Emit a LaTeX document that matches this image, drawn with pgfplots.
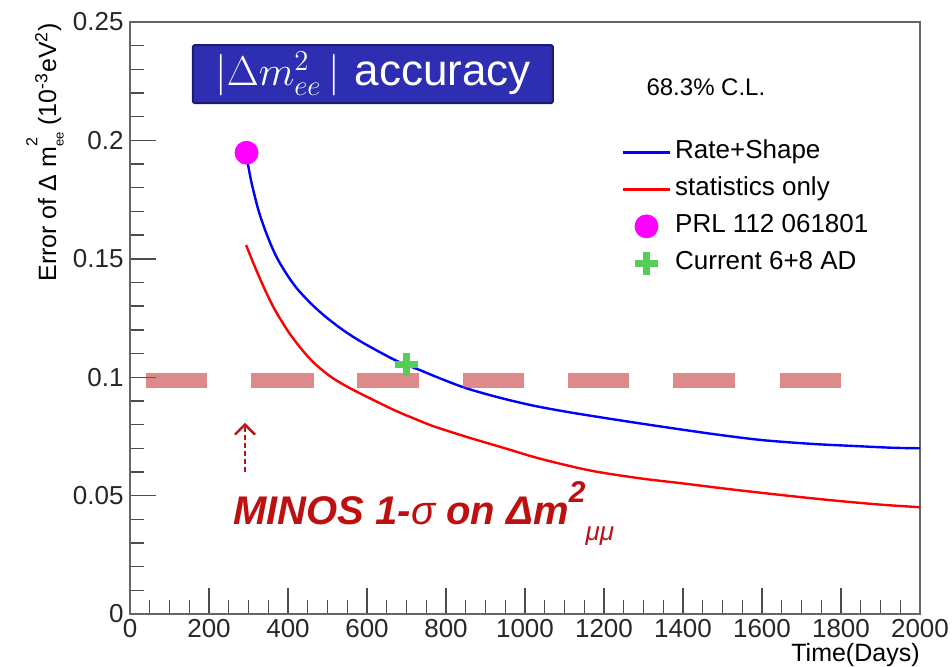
\documentclass[border=0pt]{standalone}
\usepackage{fontspec}
\setmainfont{Liberation Sans}
\usepackage{pgfplots}
\pgfplotsset{compat=1.18}
\usetikzlibrary{arrows.meta}

\definecolor{rsblue}{RGB}{0,0,255}
\definecolor{stred}{RGB}{255,0,0}
\definecolor{prlmag}{RGB}{255,0,255}
\definecolor{curgreen}{RGB}{88,204,88}
\definecolor{minosred}{RGB}{190,16,16}
\definecolor{bandred}{RGB}{200,60,60}
\definecolor{titlebg}{RGB}{46,46,178}
\definecolor{titleedge}{RGB}{28,28,110}

% legend images: short line, or a single centred mark
\pgfplotsset{
  lineleg/.style={legend image code/.code={\draw[##1] (0pt,0pt) -- (23.5pt,0pt);}},
  markleg/.style={legend image code/.code={\draw[mark repeat=1,mark phase=1,##1] plot coordinates {(11.75pt,0pt)};}},
  band/.style={bandred, opacity=0.6, line width=7.5pt, forget plot},
}
\newcommand{\legfont}{\fontsize{13}{15}\selectfont}

% superscript stacked over subscript, as in m^2_ee
\newcommand{\supsub}[2]{\makebox[0pt][l]{\raisebox{0.75em}{\fontsize{8}{8}\selectfont #1}}\raisebox{-0.3em}{\fontsize{6.5}{6.5}\selectfont #2}}

\begin{document}
\begin{tikzpicture}
\useasboundingbox (-65pt,-26pt) rectangle (411pt,307pt);
\begin{axis}[
  at={(0,0)}, anchor=south west,
  scale only axis, width=395pt, height=296pt,
  xmin=0, xmax=2000, ymin=0, ymax=0.25,
  xtick={0,200,400,600,800,1000,1200,1400,1600,1800,2000},
  xticklabels={0,200,400,600,800,1000,1200,1400,1600,1800,2000},
  ytick={0,0.05,0.1,0.15,0.2,0.25},
  yticklabels={0,0.05,0.1,0.15,0.2,0.25},
  minor x tick num=3, minor y tick num=4,
  tick align=inside, xtick pos=bottom, ytick pos=left,
  major tick length=13pt, minor tick length=7pt,
  scaled ticks=false,
  ticklabel style={font=\fontsize{13}{15}\selectfont, text=black!85},
  xticklabel style={inner ysep=2.5pt},
  yticklabel style={inner xsep=3pt},
  axis line style={black!60, line width=0.7pt},
  every tick/.style={black!70, line width=0.7pt},
  xlabel={Time(Days)},
  xlabel style={at={(rel axis cs:1,0)}, anchor=north east, yshift=-14.5pt, inner sep=0pt, font=\fontsize{12.5}{15}\selectfont},
  ylabel={Error of Δ m\supsub{2}{ee} (10\textsuperscript{-3}eV\textsuperscript{2})},
  ylabel style={at={(axis description cs:-0.1076,0.78)}, anchor=center, inner sep=0pt, font=\fontsize{12.5}{15}\selectfont},
  legend style={at={(rel axis cs:0.622,0.8117)}, anchor=north west, draw=none, fill=none,
    inner sep=0pt, row sep=0pt, font=\legfont,
    nodes={font=\legfont, text height=9.5pt, text depth=3pt, inner ysep=3pt},
    /tikz/every even column/.append style={column sep=0pt}},
  legend cell align=left,
]
% simulated sensitivity curves
\addplot[rsblue, line width=1.2pt, smooth, tension=0.5, lineleg]
coordinates {
 (295,0.1915) (298,0.1903) (308,0.1819) (325,0.1706) (342,0.1622)
 (359,0.1551) (375,0.1495) (401,0.1424) (426,0.1368) (460,0.1308)
 (494,0.1257) (536,0.1203) (578,0.1157) (629,0.1109) (679,0.1066)
 (734,0.1030) (785,0.0995) (852,0.0953) (937,0.0913) (1021,0.0880)
 (1105,0.0854) (1190,0.0831) (1291,0.0805) (1392,0.0780) (1494,0.0756)
 (1603,0.0734) (1730,0.0718) (1840,0.0709) (1932,0.0702) (2000,0.0700)
};
\addlegendentry{\legfont Rate+Shape}
\addplot[stred, line width=1.2pt, smooth, tension=0.5, lineleg]
coordinates {
 (294,0.1558) (316,0.1467) (342,0.1368) (367,0.1284) (401,0.1192)
 (435,0.1117) (468,0.1057) (511,0.0999) (561,0.0950) (650,0.0876)
 (684,0.0850) (726,0.0821) (768,0.0793) (852,0.0748) (945,0.0702)
 (1038,0.0656) (1165,0.0606) (1291,0.0573) (1392,0.0553) (1519,0.0527)
 (1646,0.0503) (1772,0.0481) (1899,0.0462) (2000,0.0451)
};
\addlegendentry{\legfont statistics only}
% MINOS 1-sigma band, drawn as a dashed strip
\addplot[band] coordinates {(40,0.0985) (195,0.0985)};
\addplot[band] coordinates {(306,0.0985) (466,0.0985)};
\addplot[band] coordinates {(575,0.0985) (732,0.0985)};
\addplot[band] coordinates {(843,0.0985) (997,0.0985)};
\addplot[band] coordinates {(1109,0.0985) (1263,0.0985)};
\addplot[band] coordinates {(1375,0.0985) (1532,0.0985)};
\addplot[band] coordinates {(1646,0.0985) (1800,0.0985)};
% published and current results
\addplot[only marks, mark=*, mark size=5.75pt, prlmag, mark options={draw=none, fill=prlmag}, markleg]
coordinates {(295,0.1948)};
\addlegendentry{\legfont PRL 112 061801}
\addplot[only marks, mark=+, mark size=5.75pt, curgreen, mark options={line width=3.6pt, curgreen}, markleg]
coordinates {(700,0.1055)};
\addlegendentry{\legfont Current 6+8 AD}

\node[fill=titlebg, draw=titleedge, line width=1pt, rounded corners=1pt, text=white,
  minimum width=180pt, minimum height=29pt, inner sep=2pt, font=\fontsize{22}{25}\selectfont]
  at (axis cs:615,0.228) {$|\Delta m^{2}_{ee}\,|$\,\,accuracy};
\node[font=\fontsize{12}{14}\selectfont] at (axis cs:1458,0.2226) {68.3\% C.L.};
\draw[minosred, line width=1.2pt, dash pattern=on 2.5pt off 1.5pt,
  -{Straight Barb[length=5pt,width=10pt]}] (axis cs:291,0.060) -- (axis cs:291,0.0807);
\node[anchor=base west, inner sep=0pt, text=minosred, font=\fontsize{20}{23}\selectfont\bfseries\itshape]
  at (axis cs:261,0.0376)
  {MINOS 1-{\mdseries σ} on Δm\raisebox{0.55em}{\fontsize{15}{15}\selectfont 2}\raisebox{-0.4em}{\fontsize{13}{13}\selectfont\mdseries μμ}};
\end{axis}
\end{tikzpicture}
\end{document}
